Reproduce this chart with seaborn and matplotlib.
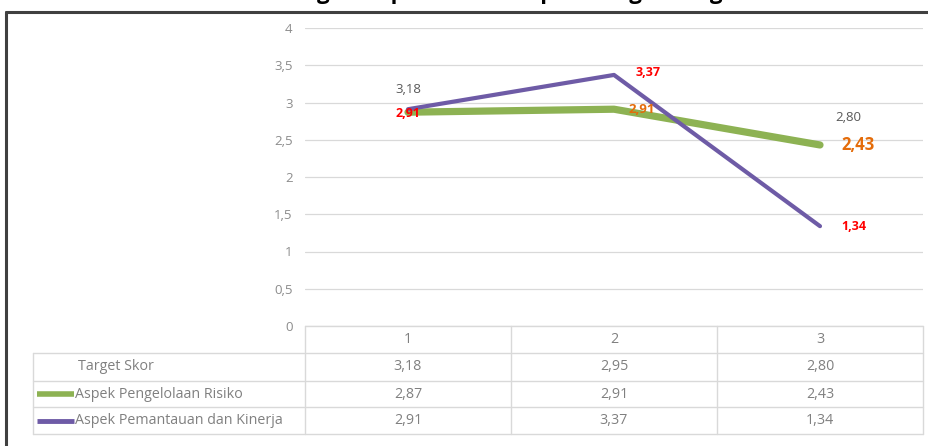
import numpy as np
import pandas as pd
import matplotlib
matplotlib.use("Agg")
import matplotlib.pyplot as plt
import seaborn as sns
from matplotlib.ticker import FuncFormatter, MultipleLocator
from matplotlib.transforms import blended_transform_factory

# ==================== data ====================
categories = [1, 2, 3]
target_skor = [3.18, 2.95, 2.80]
pengelolaan_risiko = [2.87, 2.91, 2.43]
pemantauan_kinerja = [2.91, 3.37, 1.34]

series_names = ["Target Skor", "Aspek Pengelolaan Risiko", "Aspek Pemantauan dan Kinerja"]
title_text = "Grafik Perbandingan Capaian Skor Aspek dengan Target Skor"

def fmt(v):
    return f"{v:.2f}".replace(".", ",")

df = pd.DataFrame({
    "Kategori": categories * 2,
    "Skor": pengelolaan_risiko + pemantauan_kinerja,
    "Aspek": [series_names[1]] * 3 + [series_names[2]] * 3,
})

# ==================== style ====================
sns.set_theme(style="white")
plt.rcParams["font.family"] = ["Open Sans", "DejaVu Sans"]

green = "#8DB253"
purple = "#6E5BA6"
grey_txt = "#808080"
grid_col = "#d9d9d9"
fs = 9.5
fs_tab = 10.3

W, H = 929, 446
fig = plt.figure(figsize=(W / 100, H / 100), dpi=100)

# plot area in pixel layout
left, right, top, bottom = 305, 923, 28, 326
ax = fig.add_axes([left / W, 1 - bottom / H, (right - left) / W, (bottom - top) / H])

sns.lineplot(data=df[df["Aspek"] == series_names[1]], x="Kategori", y="Skor",
             color=green, linewidth=5.2, ax=ax, zorder=3)
sns.lineplot(data=df[df["Aspek"] == series_names[2]], x="Kategori", y="Skor",
             color=purple, linewidth=3, ax=ax, zorder=4)

ax.set_xlim(0.5, 3.5)
ax.set_ylim(0, 4)
ax.yaxis.set_major_locator(MultipleLocator(0.5))
ax.yaxis.set_major_formatter(FuncFormatter(lambda v, p: (f"{v:g}").replace(".", ",")))
ax.set_xticks([])
ax.set_xlabel("")
ax.set_ylabel("")
ax.tick_params(axis="y", length=0, pad=9, labelsize=fs, labelcolor="#8c8c8c")
ax.grid(axis="y", color=grid_col, linewidth=0.9)
for s in ax.spines.values():
    s.set_visible(False)
ax.patch.set_alpha(0)

# ==================== data labels ====================
# (offset x px, offset y px, font size) per point, None = hidden
target_off = [(0, 0, fs), None, (28, 0, fs)]
risiko_off = [None, (28, 0, fs), (38, 0, 12)]
pemantauan_off = [(0, -4, 9), (34, 2, 9), (34, 0, 9)]

def put_labels(vals, offs, color, weight):
    for x, v, o in zip(categories, vals, offs):
        if o is None:
            continue
        ax.annotate(fmt(v), (x, v), xytext=(o[0] * 0.72, o[1] * 0.72),
                    textcoords="offset points", ha="center", va="center",
                    fontsize=o[2], color=color, fontweight=weight, zorder=6)

put_labels(target_skor, target_off, "#595959", "normal")
put_labels(pengelolaan_risiko, risiko_off, "#E46C0A", "bold")
put_labels(pemantauan_kinerja, pemantauan_off, "#FF0000", "bold")

# ==================== data table ====================
ov = fig.add_axes([0, 0, 1, 1], zorder=-1)
ov.set_xlim(0, W)
ov.set_ylim(H, 0)
ov.axis("off")

tr = blended_transform_factory(ax.transData, ov.transData)

row_y = [326, 353, 381, 407, 434]
label_left = 33
col_edges = [0.5, 1.5, 2.5, 3.5]

# horizontal lines
ov.plot([left, right], [row_y[0], row_y[0]], color=grid_col, lw=1)
for y in row_y[1:]:
    ov.plot([label_left, right], [y, y], color=grid_col, lw=1)
# vertical lines
ov.plot([label_left, label_left], [row_y[1], row_y[-1]], color=grid_col, lw=1)
for xe in col_edges:
    ov.plot([xe, xe], [row_y[0], row_y[-1]], color=grid_col, lw=1, transform=tr)

# header
for x in categories:
    ov.text(x, (row_y[0] + row_y[1]) / 2, str(x), transform=tr, ha="center",
            va="center", fontsize=fs_tab, color=grey_txt)

rows = [target_skor, pengelolaan_risiko, pemantauan_kinerja]
key_colors = [None, green, purple]
key_widths = [0, 4, 3.5]
for i, (name, vals) in enumerate(zip(series_names, rows)):
    yc = (row_y[i + 1] + row_y[i + 2]) / 2
    if key_colors[i] is not None:
        ov.plot([37, 74], [yc, yc], color=key_colors[i], lw=key_widths[i], solid_capstyle="butt")
        ov.text(75, yc, name, ha="left", va="center", fontsize=fs_tab, color=grey_txt)
    else:
        ov.text(78, yc, name, ha="left", va="center", fontsize=fs_tab, color=grey_txt)
    for x, v in zip(categories, vals):
        ov.text(x, yc, fmt(v), transform=tr, ha="center", va="center",
                fontsize=fs_tab, color=grey_txt)

# frame + clipped title
ov.plot([6, 6], [12, H], color="#404040", lw=2.2)
ov.plot([6, W], [12, 12], color="#404040", lw=2.2)
fig.text(0.5, 1 + 1 / H, title_text, ha="center", va="baseline",
         fontsize=16, fontweight="bold", color="black")

fig.savefig("out.png", dpi=100)
